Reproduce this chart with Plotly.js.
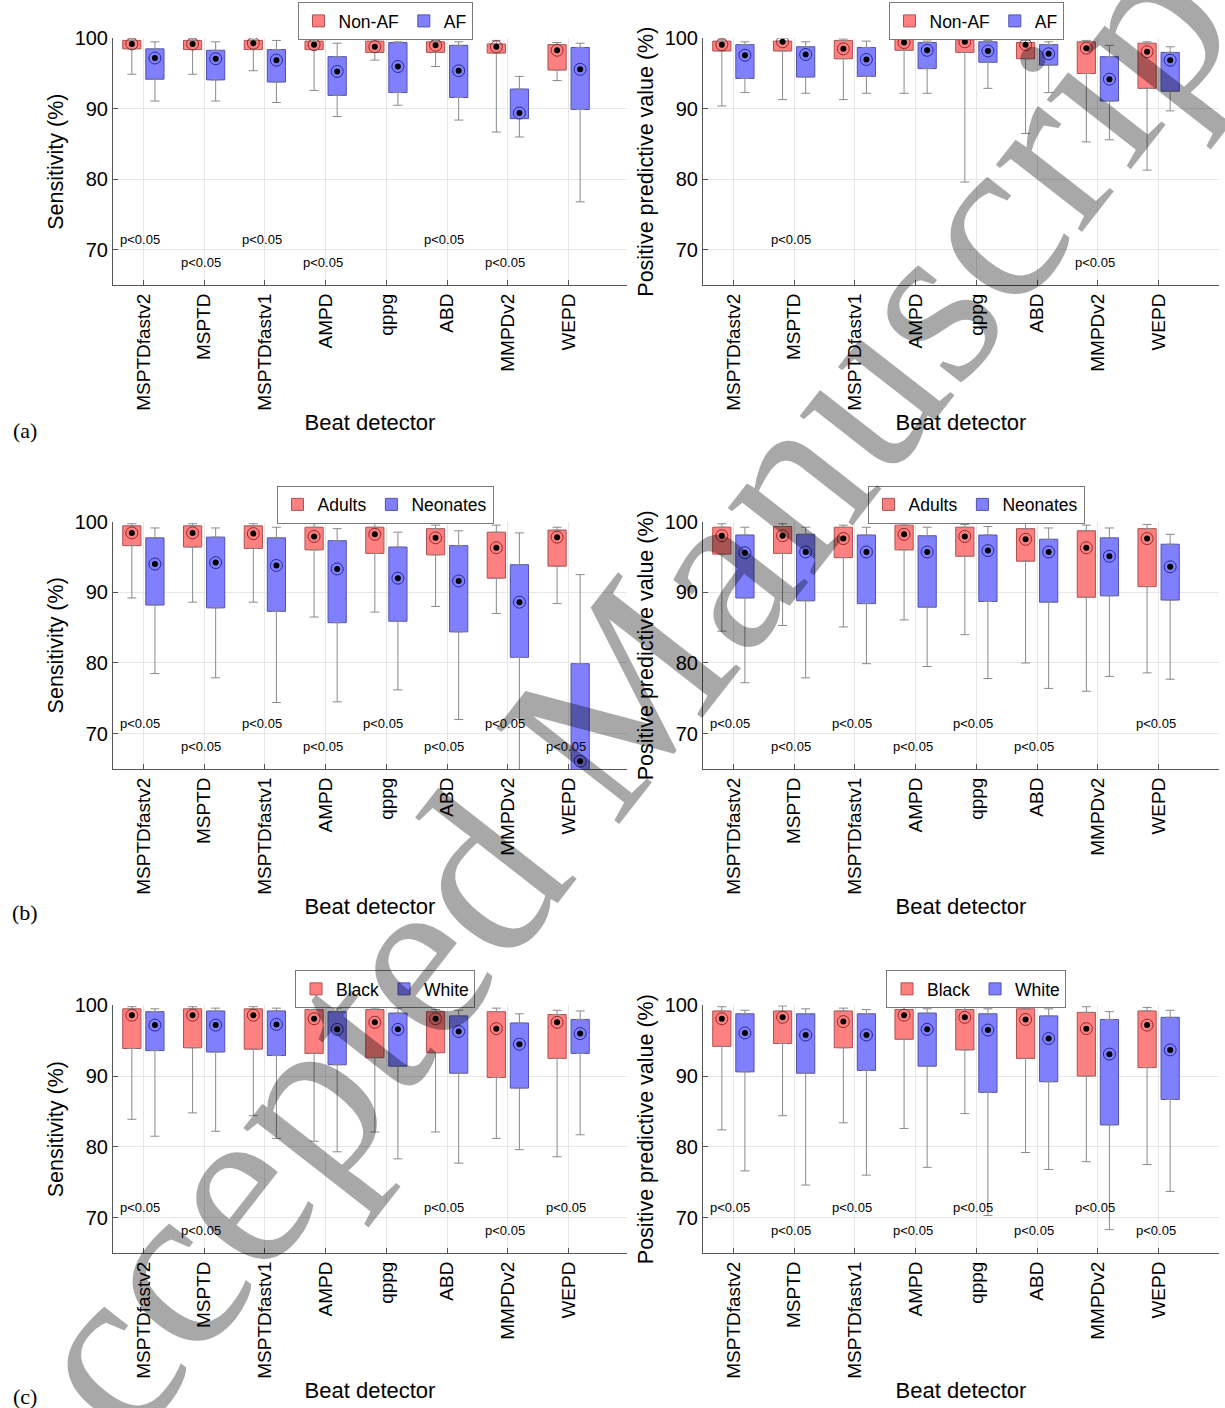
<!DOCTYPE html>
<html><head><meta charset="utf-8">
<script src="https://cdn.plot.ly/plotly-3.0.1.min.js"></script>
<style>html,body{margin:0;padding:0;background:#fff}#chart{width:1225px;height:1408px}</style>
</head><body><div id="chart"></div>
<script>
// ---------- categories & labels ----------
const detectors = ['MSPTDfastv2','MSPTD','MSPTDfastv1','AMPD','qppg','ABD','MMPDv2','WEPD'];
const yTicks = [70, 80, 90, 100];
const groupsA = ['Non-AF', 'AF'];
const groupsB = ['Adults', 'Neonates'];
const groupsC = ['Black', 'White'];
const sigText = 'p&lt;0.05';

// ---------- (a) Sensitivity: Non-AF vs AF ----------
const aSensNonAF_hi  = [99.9, 99.9, 99.9, 99.8, 99.9, 99.7, 99.7, 99.4];
const aSensNonAF_q3  = [99.7, 99.7, 99.7, 99.6, 99.6, 99.5, 99.2, 99.1];
const aSensNonAF_med = [99.2, 99.2, 99.3, 99.1, 98.8, 99.0, 98.8, 98.3];
const aSensNonAF_q1  = [98.5, 98.4, 98.4, 98.4, 98.0, 98.0, 97.9, 95.5];
const aSensNonAF_lo  = [94.9, 94.9, 95.4, 92.6, 96.9, 96.0, 86.7, 94.0];
const aSensAF_hi  = [99.5, 99.5, 99.7, 99.3, 99.5, 99.5, 94.6, 99.3];
const aSensAF_q3  = [98.5, 98.3, 98.4, 97.4, 99.4, 99.0, 92.8, 98.7];
const aSensAF_med = [97.2, 97.1, 96.9, 95.3, 96.0, 95.4, 89.4, 95.6];
const aSensAF_q1  = [94.2, 94.1, 93.8, 91.9, 92.3, 91.6, 88.6, 89.9];
const aSensAF_lo  = [91.1, 91.1, 90.9, 88.9, 90.5, 88.4, 86.0, 76.8];
const aSensSig = [1, 1, 1, 1, 0, 1, 1, 0];

// ---------- (a) PPV: Non-AF vs AF ----------
const aPpvNonAF_hi  = [99.9, 100.0, 99.9, 100.0, 100.0, 99.7, 99.7, 99.5];
const aPpvNonAF_q3  = [99.6, 99.6, 99.7, 99.9, 99.8, 99.4, 99.5, 99.3];
const aPpvNonAF_med = [99.1, 99.5, 98.5, 99.4, 99.5, 99.1, 98.6, 98.1];
const aPpvNonAF_q1  = [98.2, 98.2, 97.1, 98.3, 98.0, 97.1, 95.0, 92.9];
const aPpvNonAF_lo  = [90.4, 91.3, 91.3, 92.2, 79.6, 86.5, 85.3, 81.3];
const aPpvAF_hi  = [99.5, 99.5, 99.6, 99.6, 99.7, 99.5, 99.0, 98.8];
const aPpvAF_q3  = [99.1, 98.8, 98.7, 99.4, 99.5, 99.1, 97.4, 98.0];
const aPpvAF_med = [97.6, 97.7, 97.0, 98.3, 98.2, 97.8, 94.2, 96.9];
const aPpvAF_q1  = [94.3, 94.5, 94.6, 95.7, 96.6, 96.2, 91.1, 92.5];
const aPpvAF_lo  = [92.3, 92.2, 92.2, 92.2, 92.9, 92.3, 85.6, 89.7];
const aPpvSig = [0, 1, 0, 0, 0, 0, 1, 0];

// ---------- (b) Sensitivity: Adults vs Neonates ----------
const bSensAdults_hi  = [99.7, 99.7, 99.7, 99.7, 99.8, 99.5, 99.5, 99.2];
const bSensAdults_q3  = [99.4, 99.4, 99.4, 99.2, 99.2, 99.0, 98.5, 98.8];
const bSensAdults_med = [98.4, 98.4, 98.3, 97.9, 98.2, 97.7, 96.3, 97.8];
const bSensAdults_q1  = [96.6, 96.4, 96.2, 96.0, 95.5, 95.3, 92.0, 93.7];
const bSensAdults_lo  = [89.2, 88.6, 88.6, 86.5, 87.2, 88.0, 87.0, 88.4];
const bSensNeo_hi  = [99.1, 99.1, 99.2, 99.0, 98.5, 98.7, 98.4, 92.5];
const bSensNeo_q3  = [97.7, 97.8, 97.7, 97.3, 96.4, 96.6, 93.9, 79.9];
const bSensNeo_med = [94.0, 94.2, 93.8, 93.3, 92.0, 91.6, 88.6, 66.1];
const bSensNeo_q1  = [88.2, 87.8, 87.3, 85.7, 85.9, 84.4, 80.8, 62.0];
const bSensNeo_lo  = [78.5, 77.9, 74.4, 74.5, 76.2, 72.0, 63.0, 58.0];
const bSensSig = [1, 1, 1, 1, 1, 1, 1, 1];

// ---------- (b) PPV: Adults vs Neonates ----------
const bPpvAdults_hi  = [99.7, 99.7, 99.5, 99.9, 99.6, 99.8, 99.5, 99.6];
const bPpvAdults_q3  = [99.2, 99.3, 99.2, 99.5, 99.2, 99.0, 98.7, 99.0];
const bPpvAdults_med = [98.0, 98.0, 97.6, 98.2, 97.9, 97.5, 96.3, 97.6];
const bPpvAdults_q1  = [95.4, 95.5, 94.9, 96.0, 95.1, 94.4, 89.3, 90.8];
const bPpvAdults_lo  = [84.5, 85.3, 85.1, 86.1, 84.0, 80.0, 76.0, 78.6];
const bPpvNeo_hi  = [99.2, 99.2, 99.2, 99.2, 99.3, 99.1, 99.1, 98.2];
const bPpvNeo_q3  = [98.1, 98.2, 98.1, 98.0, 98.1, 97.5, 97.7, 96.8];
const bPpvNeo_med = [95.6, 95.7, 95.7, 95.7, 95.9, 95.7, 95.1, 93.6];
const bPpvNeo_q1  = [89.2, 88.8, 88.4, 87.9, 88.7, 88.6, 89.5, 88.9];
const bPpvNeo_lo  = [77.2, 77.9, 79.9, 79.5, 77.8, 76.4, 78.1, 77.7];
const bPpvSig = [1, 1, 1, 1, 1, 1, 0, 1];

// ---------- (c) Sensitivity: Black vs White ----------
const cSensBlack_hi  = [99.8, 99.8, 99.8, 99.8, 99.6, 99.4, 99.6, 99.3];
const cSensBlack_q3  = [99.5, 99.5, 99.5, 99.4, 99.4, 99.1, 99.1, 98.7];
const cSensBlack_med = [98.6, 98.6, 98.6, 98.1, 97.6, 98.1, 96.7, 97.6];
const cSensBlack_q1  = [93.9, 94.0, 93.8, 93.2, 92.6, 93.3, 89.8, 92.5];
const cSensBlack_lo  = [83.9, 84.8, 84.4, 80.8, 82.1, 82.1, 81.2, 78.6];
const cSensWhite_hi  = [99.5, 99.6, 99.6, 99.6, 99.6, 99.3, 98.8, 99.2];
const cSensWhite_q3  = [99.1, 99.2, 99.2, 99.1, 98.9, 98.5, 97.5, 98.0];
const cSensWhite_med = [97.2, 97.2, 97.3, 96.6, 96.6, 96.3, 94.5, 96.0];
const cSensWhite_q1  = [93.6, 93.4, 92.9, 91.6, 91.4, 90.4, 88.3, 93.2];
const cSensWhite_lo  = [81.5, 82.2, 81.2, 79.3, 78.3, 77.7, 79.6, 81.7];
const cSensSig = [1, 1, 0, 0, 0, 1, 1, 1];

// ---------- (c) PPV: Black vs White ----------
const cPpvBlack_hi  = [99.8, 99.9, 99.6, 99.95, 99.8, 99.9, 99.8, 99.7];
const cPpvBlack_q3  = [99.2, 99.2, 99.2, 99.4, 99.4, 99.5, 99.0, 99.2];
const cPpvBlack_med = [98.1, 98.3, 97.7, 98.6, 98.3, 98.0, 96.7, 97.2];
const cPpvBlack_q1  = [94.2, 94.6, 94.0, 95.2, 93.7, 92.5, 90.0, 91.2];
const cPpvBlack_lo  = [82.4, 84.4, 83.4, 82.6, 84.7, 79.2, 77.9, 77.5];
const cPpvWhite_hi  = [99.3, 99.5, 99.4, 99.5, 99.5, 99.5, 99.1, 99.3];
const cPpvWhite_q3  = [98.8, 98.8, 98.8, 98.9, 98.8, 98.5, 98.0, 98.3];
const cPpvWhite_med = [96.1, 95.8, 95.8, 96.6, 96.5, 95.3, 93.1, 93.7];
const cPpvWhite_q1  = [90.6, 90.4, 90.8, 91.4, 87.7, 89.2, 83.1, 86.7];
const cPpvWhite_lo  = [76.6, 74.6, 76.0, 77.1, 70.3, 76.8, 68.3, 73.7];
const cPpvSig = [1, 1, 1, 1, 1, 1, 1, 1];

// ---------- assemble panels ----------
function stats(lo, q1, med, q3, hi) { return {lo, q1, med, q3, hi}; }
const panels = [
  {names: groupsA, sig: aSensSig, ytitle: 'Sensitivity (%)',
   s: [stats(aSensNonAF_lo, aSensNonAF_q1, aSensNonAF_med, aSensNonAF_q3, aSensNonAF_hi),
       stats(aSensAF_lo, aSensAF_q1, aSensAF_med, aSensAF_q3, aSensAF_hi)]},
  {names: groupsA, sig: aPpvSig, ytitle: 'Positive predictive value (%)',
   s: [stats(aPpvNonAF_lo, aPpvNonAF_q1, aPpvNonAF_med, aPpvNonAF_q3, aPpvNonAF_hi),
       stats(aPpvAF_lo, aPpvAF_q1, aPpvAF_med, aPpvAF_q3, aPpvAF_hi)]},
  {names: groupsB, sig: bSensSig, ytitle: 'Sensitivity (%)',
   s: [stats(bSensAdults_lo, bSensAdults_q1, bSensAdults_med, bSensAdults_q3, bSensAdults_hi),
       stats(bSensNeo_lo, bSensNeo_q1, bSensNeo_med, bSensNeo_q3, bSensNeo_hi)]},
  {names: groupsB, sig: bPpvSig, ytitle: 'Positive predictive value (%)',
   s: [stats(bPpvAdults_lo, bPpvAdults_q1, bPpvAdults_med, bPpvAdults_q3, bPpvAdults_hi),
       stats(bPpvNeo_lo, bPpvNeo_q1, bPpvNeo_med, bPpvNeo_q3, bPpvNeo_hi)]},
  {names: groupsC, sig: cSensSig, ytitle: 'Sensitivity (%)',
   s: [stats(cSensBlack_lo, cSensBlack_q1, cSensBlack_med, cSensBlack_q3, cSensBlack_hi),
       stats(cSensWhite_lo, cSensWhite_q1, cSensWhite_med, cSensWhite_q3, cSensWhite_hi)]},
  {names: groupsC, sig: cPpvSig, ytitle: 'Positive predictive value (%)',
   s: [stats(cPpvBlack_lo, cPpvBlack_q1, cPpvBlack_med, cPpvBlack_q3, cPpvBlack_hi),
       stats(cPpvWhite_lo, cPpvWhite_q1, cPpvWhite_med, cPpvWhite_q3, cPpvWhite_hi)]}
];

// ---------- styling ----------
const W = 1225, H = 1408;
const FONT = 'Liberation Sans, Arial, Helvetica, sans-serif';
const fills = ['rgb(255,128,128)', 'rgb(128,128,255)'];
const edges = ['rgb(175,80,80)', 'rgb(80,80,175)'];
const rings = ['rgb(150,40,40)', 'rgb(40,40,150)'];
const offsets = [-0.19, 0.19];
const boxW = 0.30;
const colPx = [[113, 627], [703, 1219]];
const pxPerCat = 60.75;
const rowPx = [[38.3, 285], [521.6, 769], [1005.3, 1253]];
const legendYpx = [21, 504.5, 989];
const legendXpx = [385, 976];

const traces = [];
const layout = {
  width: W, height: H, margin: {l: 0, r: 0, t: 0, b: 0},
  paper_bgcolor: '#fff', plot_bgcolor: '#fff',
  barmode: 'overlay', showlegend: true,
  font: {family: FONT, color: '#000'},
  annotations: []
};

panels.forEach((p, k) => {
  const r = Math.floor(k / 2), c = k % 2;
  const sfx = k === 0 ? '' : String(k + 1);
  const xa = 'x' + sfx, ya = 'y' + sfx;
  const legName = 'legend' + sfx;
  const cats = detectors.map((_, i) => i + 1);
  const xr = [0.5, 0.5 + (colPx[c][1] - colPx[c][0]) / pxPerCat];

  layout['xaxis' + sfx] = {
    domain: [colPx[c][0] / W, colPx[c][1] / W], anchor: ya, range: xr,
    tickvals: cats, ticktext: detectors, tickangle: -90,
    tickfont: {size: 19, family: FONT}, ticks: 'inside', ticklen: 5, tickcolor: '#555',
    showline: true, linecolor: '#555', linewidth: 1, mirror: false,
    showgrid: true, gridcolor: '#e6e6e6', gridwidth: 1, zeroline: false, fixedrange: true,
    title: {text: 'Beat detector', font: {size: 22, family: FONT}, standoff: 4}
  };
  layout['yaxis' + sfx] = {
    domain: [1 - rowPx[r][1] / H, 1 - rowPx[r][0] / H], anchor: xa, range: [65, 100],
    tickvals: yTicks, tickfont: {size: 20, family: FONT}, ticks: 'inside', ticklen: 5, tickcolor: '#555',
    showline: true, linecolor: '#555', linewidth: 1, mirror: false,
    showgrid: true, gridcolor: '#e6e6e6', gridwidth: 1, zeroline: false, fixedrange: true,
    title: {text: p.ytitle, font: {size: 21.5, family: FONT}, standoff: 5}
  };
  layout[legName] = {
    x: legendXpx[c] / W, xanchor: 'center', y: 1 - legendYpx[r] / H, yanchor: 'middle',
    orientation: 'h', bgcolor: '#fff', bordercolor: '#7a7a7a', borderwidth: 1,
    font: {size: 17.5, family: FONT}, itemwidth: 30, tracegroupgap: 0
  };

  p.s.forEach((st, j) => {
    const xs = cats.map(v => v + offsets[j]);
    traces.push({
      type: 'bar', x: xs, base: st.q1, y: st.q3.map((v, i) => v - st.q1[i]),
      width: boxW, xaxis: xa, yaxis: ya, name: p.names[j], legend: legName,
      showlegend: true, hoverinfo: 'skip',
      marker: {color: fills[j], line: {color: edges[j], width: 1}}
    });
  });
  p.s.forEach((st, j) => {
    const xs = cats.map(v => v + offsets[j]);
    const zeros = xs.map(() => 0);
    traces.push({
      type: 'scatter', mode: 'markers', x: xs, y: st.q3, xaxis: xa, yaxis: ya,
      marker: {size: 1, color: 'rgba(0,0,0,0)'}, showlegend: false, hoverinfo: 'skip',
      error_y: {type: 'data', symmetric: false, array: st.hi.map((v, i) => v - st.q3[i]),
                arrayminus: zeros, color: '#8a8a8a', thickness: 1, width: 4.5}
    });
    traces.push({
      type: 'scatter', mode: 'markers', x: xs, y: st.q1, xaxis: xa, yaxis: ya,
      marker: {size: 1, color: 'rgba(0,0,0,0)'}, showlegend: false, hoverinfo: 'skip',
      error_y: {type: 'data', symmetric: false, array: zeros,
                arrayminus: st.q1.map((v, i) => v - st.lo[i]), color: '#8a8a8a', thickness: 1, width: 4.5}
    });
  });
  p.s.forEach((st, j) => {
    const xs = cats.map(v => v + offsets[j]);
    traces.push({
      type: 'scatter', mode: 'markers', x: xs, y: st.med, xaxis: xa, yaxis: ya,
      marker: {symbol: 'circle-open', size: 12, color: rings[j], line: {width: 1, color: rings[j]}},
      showlegend: false, hoverinfo: 'skip'
    });
    traces.push({
      type: 'scatter', mode: 'markers', x: xs, y: st.med, xaxis: xa, yaxis: ya,
      marker: {symbol: 'circle', size: 6, color: '#000'},
      showlegend: false, hoverinfo: 'skip'
    });
  });

  let n = 0;
  p.sig.forEach((s, i) => {
    if (!s) return;
    layout.annotations.push({
      xref: xa, yref: ya, x: i + 1 - 0.05, y: (n % 2 === 0) ? 71.4 : 68.2,
      text: sigText, showarrow: false, font: {size: 13, family: FONT, color: '#000'},
      xanchor: 'center', yanchor: 'middle'
    });
    n++;
  });
});

['(a)', '(b)', '(c)'].forEach((t, r) => {
  const ypx = [430, 912, 1396][r];
  layout.annotations.push({
    xref: 'paper', yref: 'paper', x: 25 / W, y: 1 - ypx / H, text: t, showarrow: false,
    font: {size: 22, family: 'Liberation Serif, Times New Roman, serif', color: '#000'},
    xanchor: 'center', yanchor: 'middle'
  });
});

layout.annotations.push({
  xref: 'paper', yref: 'paper', x: 590 / W, y: 1 - 730 / H, text: 'Accepted Manuscript',
  showarrow: false, textangle: -52,
  font: {size: 238, family: 'Liberation Serif, Times New Roman, serif', color: 'rgba(0,0,0,0.34)'},
  xanchor: 'center', yanchor: 'middle'
});

Plotly.newPlot('chart', traces, layout, {displayModeBar: false, staticPlot: true});
</script>
</body></html>
